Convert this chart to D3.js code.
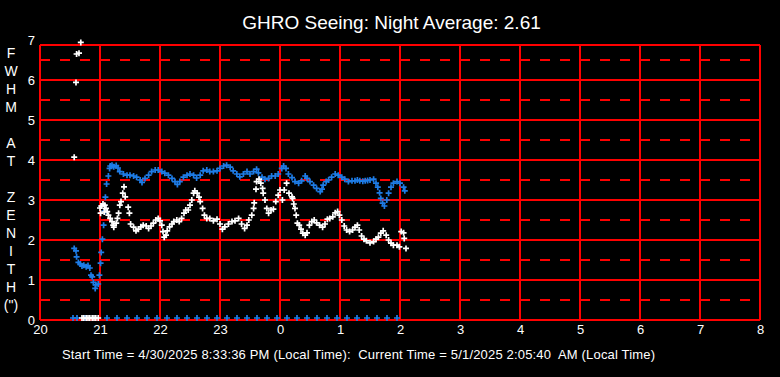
<!DOCTYPE html>
<html>
<head>
<meta charset="utf-8">
<script src="https://cdn.jsdelivr.net/npm/d3@7"></script>
<style>
  body { margin: 0; background: #000; }
  text { font-family: "Liberation Sans", Arial, sans-serif; fill: #fff; }
</style>
</head>
<body>
<div id="chart"></div>
<script>
const width = 780;
const height = 377;

// time in hours of night (24+ = after midnight), FWHM in arcsec
const blueTimes = [20.57,20.60,20.61,20.64,20.67,20.70,20.73,20.77,20.80,20.83,20.85,20.87,20.89,20.92,20.93,20.97,20.99,21.01,21.02,21.04,21.06,21.08,21.09,21.11,21.14,21.16,21.17,21.20,21.23,21.27,21.30,21.33,21.39,21.45,21.50,21.56,21.61,21.67,21.70,21.75,21.81,21.86,21.92,21.97,22.03,22.08,22.14,22.20,22.25,22.29,22.33,22.39,22.45,22.50,22.56,22.61,22.67,22.72,22.78,22.83,22.89,22.95,23.00,23.06,23.11,23.17,23.22,23.28,23.33,23.39,23.45,23.50,23.56,23.61,23.64,23.70,23.75,23.81,23.86,23.92,23.97,24.03,24.06,24.10,24.14,24.20,24.25,24.31,24.36,24.42,24.45,24.50,24.56,24.61,24.67,24.70,24.72,24.77,24.81,24.86,24.92,24.97,25.03,25.08,25.14,25.20,25.25,25.29,25.33,25.38,25.42,25.46,25.50,25.56,25.60,25.63,25.66,25.68,25.71,25.74,25.78,25.81,25.85,25.89,25.95,26.00,26.06,26.08];
const blueValues = [1.79,1.73,1.58,1.44,1.40,1.35,1.37,1.33,1.36,1.30,1.12,1.08,0.94,0.79,0.88,0.90,1.12,1.42,1.69,2.02,2.37,2.72,3.07,3.40,3.60,3.79,3.85,3.87,3.83,3.86,3.80,3.71,3.65,3.62,3.62,3.60,3.57,3.50,3.44,3.54,3.62,3.71,3.75,3.75,3.71,3.67,3.62,3.54,3.46,3.39,3.46,3.57,3.62,3.65,3.62,3.55,3.62,3.73,3.75,3.71,3.71,3.73,3.79,3.85,3.87,3.82,3.73,3.65,3.58,3.65,3.71,3.65,3.71,3.77,3.68,3.57,3.52,3.54,3.60,3.60,3.65,3.79,3.85,3.79,3.65,3.56,3.46,3.42,3.48,3.60,3.54,3.46,3.37,3.29,3.21,3.27,3.37,3.46,3.50,3.57,3.65,3.62,3.57,3.52,3.46,3.48,3.48,3.50,3.48,3.47,3.48,3.49,3.50,3.52,3.42,3.32,3.18,3.04,2.92,2.85,3.00,3.17,3.32,3.42,3.46,3.42,3.32,3.23];

// failed measurements logged as zero (minutes after 20:00)
const blueZeroMinutes = [33,37,45,67,77,87,97,107,117,127,137,147,157,167,177,187,197,207,217,227,237,247,257,267,277,287,297,307,317,327,337,347,357];

const whiteTimes = [20.57,20.60,20.61,20.65,20.68,20.70,20.73,20.77,20.80,20.83,20.87,20.90,20.93,20.97,21.00,21.01,21.02,21.05,21.07,21.08,21.10,21.12,21.14,21.17,21.20,21.22,21.23,21.27,21.29,21.31,21.33,21.35,21.38,21.40,21.42,21.47,21.49,21.51,21.56,21.60,21.64,21.68,21.72,21.77,21.81,21.85,21.89,21.93,21.97,22.00,22.03,22.05,22.07,22.10,22.12,22.16,22.20,22.23,22.28,22.32,22.36,22.40,22.43,22.47,22.50,22.53,22.56,22.58,22.62,22.65,22.67,22.71,22.74,22.78,22.83,22.89,22.95,23.00,23.04,23.08,23.14,23.20,23.25,23.31,23.36,23.41,23.45,23.48,23.53,23.56,23.57,23.60,23.61,23.65,23.68,23.71,23.72,23.75,23.78,23.81,23.85,23.89,23.93,23.97,24.00,24.04,24.07,24.11,24.15,24.20,24.21,24.23,24.25,24.27,24.29,24.32,24.35,24.38,24.42,24.45,24.49,24.53,24.57,24.61,24.66,24.71,24.75,24.79,24.83,24.88,24.92,24.96,24.99,25.03,25.07,25.11,25.16,25.21,25.25,25.29,25.32,25.36,25.40,25.44,25.50,25.56,25.60,25.64,25.68,25.72,25.77,25.81,25.85,25.89,25.95,25.99,26.02,26.06,26.07,26.10];
const whiteValues = [4.07,5.94,6.65,6.67,6.94,0,0,0,0,0,0,0,0,0,2.80,2.67,2.85,2.90,2.70,2.87,2.79,2.71,2.62,2.54,2.46,2.37,2.32,2.42,2.54,2.67,2.87,2.96,3.17,3.33,3.08,2.82,2.67,2.40,2.32,2.23,2.27,2.33,2.37,2.35,2.29,2.35,2.42,2.50,2.54,2.48,2.37,2.21,2.07,2.12,2.23,2.33,2.40,2.46,2.50,2.46,2.54,2.67,2.75,2.75,2.87,3.00,3.17,3.23,3.17,3.07,2.96,2.79,2.62,2.54,2.54,2.48,2.52,2.40,2.27,2.33,2.40,2.46,2.48,2.54,2.40,2.29,2.37,2.50,2.62,2.79,2.93,3.27,3.46,3.52,3.42,3.29,3.17,3.00,2.79,2.67,2.75,2.77,2.96,3.12,3.25,3.00,3.25,3.42,3.17,3.08,3.04,2.90,2.79,2.62,2.42,2.37,2.27,2.17,2.12,2.18,2.37,2.46,2.50,2.43,2.37,2.32,2.40,2.52,2.54,2.58,2.68,2.71,2.62,2.50,2.35,2.25,2.21,2.25,2.32,2.37,2.25,2.10,2.02,1.98,1.93,1.96,2.02,2.07,2.17,2.23,2.12,2.00,1.92,1.87,1.87,1.83,2.21,2.18,2.04,1.79];

const xTicks = [20,21,22,23,24,25,26,27,28,29,30,31,32];
const yTicks = [0,1,2,3,4,5,6,7];
const yHalf = [0.5,1.5,2.5,3.5,4.5,5.5,6.5];
const yLabel = ["F","W","H","M","","A","T","","Z","E","N","I","T","H","(\")"];
const title = "GHRO Seeing: Night Average: 2.61";
const footer = "Start Time = 4/30/2025 8:33:36 PM (Local Time):  Current Time = 5/1/2025 2:05:40  AM (Local Time)";

const x = d3.scaleLinear().domain([20, 32]).range([40, 760]);
const y = d3.scaleLinear().domain([0, 7]).range([320, 40]);
const frameTop = 45;

const svg = d3.select("#chart")
  .append("svg")
    .attr("width", width)
    .attr("height", height)
    .style("background-color", "#000")
    .style("display", "block");

/// grid
const grid = svg.append("g")
  .attr("stroke", "#ff0000")
  .attr("stroke-width", 2)
  .attr("shape-rendering", "crispEdges");

grid.selectAll(".half")
  .data(yHalf)
  .join("line")
    .attr("x1", x(20)).attr("x2", x(32))
    .attr("y1", d => y(d)).attr("y2", d => y(d))
    .attr("stroke-dasharray", "10,10");

grid.selectAll(".whole")
  .data(yTicks.slice(0, 7))
  .join("line")
    .attr("x1", x(20)).attr("x2", x(32))
    .attr("y1", d => y(d)).attr("y2", d => y(d));

grid.append("line")
  .attr("x1", x(20)).attr("x2", x(32))
  .attr("y1", frameTop).attr("y2", frameTop);

grid.selectAll(".vert")
  .data(xTicks)
  .join("line")
    .attr("x1", d => x(d)).attr("x2", d => x(d))
    .attr("y1", frameTop).attr("y2", y(0));

/// axes (labels only)
const xAxis = svg.append("g")
  .attr("transform", `translate(0,${y(0)})`)
  .call(d3.axisBottom(x).tickValues(xTicks).tickFormat(d => d % 24).tickSize(0).tickPadding(5));
xAxis.select(".domain").remove();

const yAxis = svg.append("g")
  .attr("transform", `translate(${x(20)},0)`)
  .call(d3.axisLeft(y).tickValues(yTicks).tickFormat(d3.format("d")).tickSize(0).tickPadding(5));
yAxis.select(".domain").remove();

svg.selectAll(".tick text")
  .style("font-family", '"Liberation Sans", Arial, sans-serif')
  .style("font-size", "13px")
  .attr("fill", "#fff");

/// markers
const plus = "M-3,0H3M0,-3V3";

const blue = blueTimes.map((t, i) => ({ t, v: blueValues[i] }))
  .concat(blueZeroMinutes.map(m => ({ t: 20 + m / 60, v: 0 })));
const white = whiteTimes.map((t, i) => ({ t, v: whiteValues[i] }));

svg.append("g")
  .selectAll("path")
  .data(blue)
  .join("path")
    .attr("d", plus)
    .attr("transform", d => `translate(${x(d.t)},${y(d.v) - (d.v === 0 ? 2 : 0)})`)
    .attr("stroke", "#1e7ce6")
    .attr("stroke-width", 1.7)
    .attr("fill", "none");

svg.append("g")
  .selectAll("path")
  .data(white)
  .join("path")
    .attr("d", plus)
    .attr("transform", d => `translate(${x(d.t)},${y(d.v) - (d.v === 0 ? 2 : 0)})`)
    .attr("stroke", "#ffffff")
    .attr("stroke-width", 1.7)
    .attr("fill", "none");

/// texts
svg.append("text")
  .attr("x", 391.5)
  .attr("y", 29)
  .attr("text-anchor", "middle")
  .style("font-size", "19px")
  .text(title);

svg.append("g")
  .selectAll("text")
  .data(yLabel)
  .join("text")
    .attr("x", 11)
    .attr("y", (d, i) => 53.3 + i * 18)
    .attr("text-anchor", "middle")
    .attr("dominant-baseline", "central")
    .style("font-size", "14px")
    .text(d => d);

svg.append("text")
  .attr("x", 62)
  .attr("y", 359)
  .attr("textLength", 593)
  .attr("lengthAdjust", "spacing")
  .style("font-size", "13px")
  .style("white-space", "pre")
  .text(footer);
</script>
</body>
</html>
